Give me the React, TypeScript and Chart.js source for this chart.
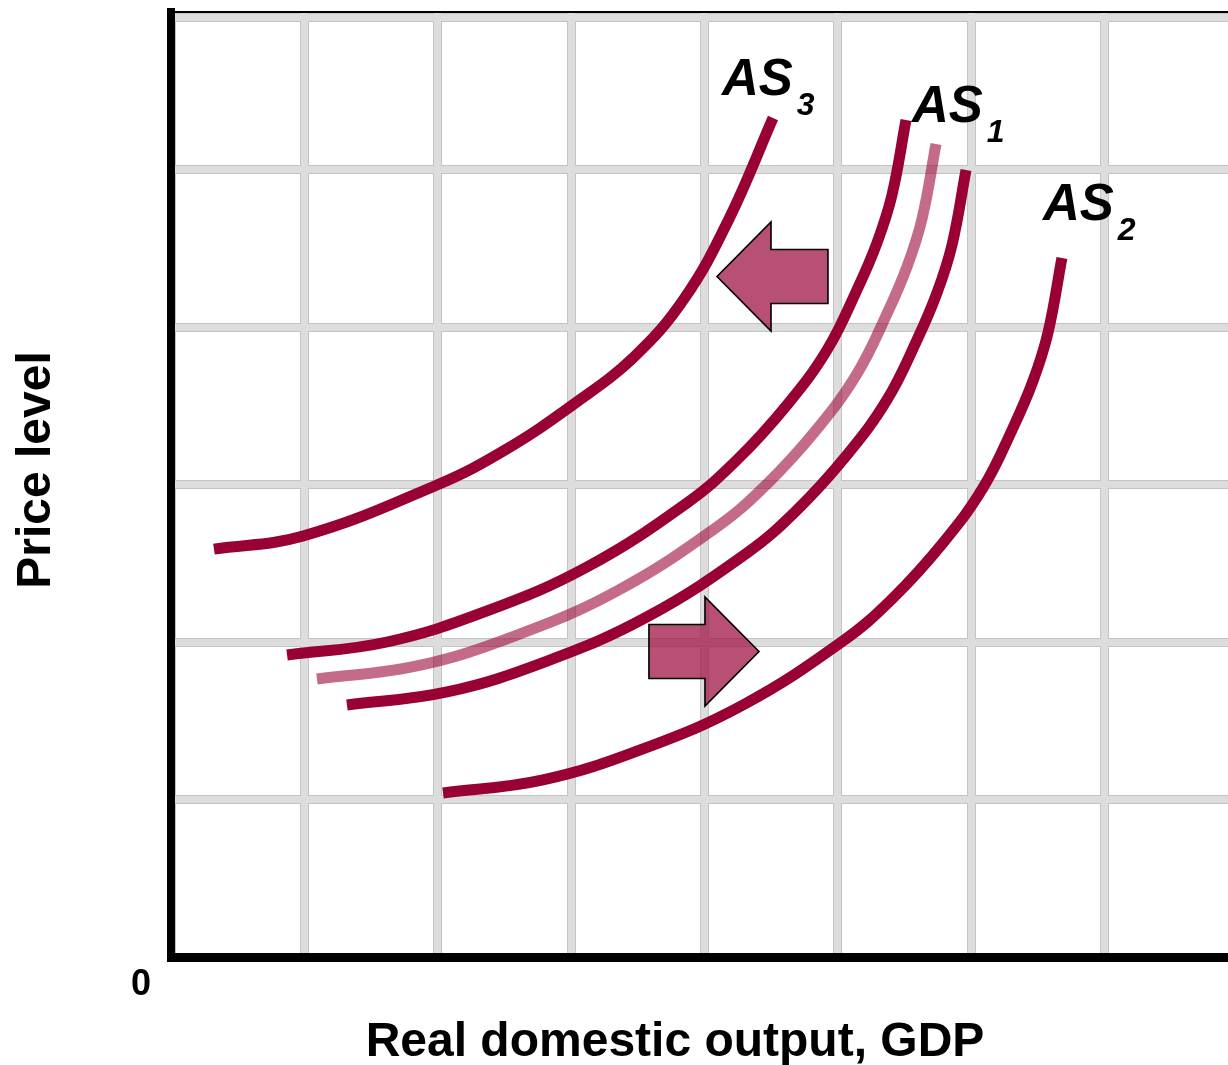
import { useEffect, useRef } from "react";
import { Chart, registerables } from "chart.js";

Chart.register(...registerables);

// Aggregate supply curves, real output (x) against price level (y), in grid units
const as3X = [0.322, 0.99, 1.994, 2.504, 3.021, 3.471, 3.846, 4.183, 4.513];
const as3Y = [2.59, 2.673, 2.997, 3.219, 3.511, 3.81, 4.178, 4.686, 5.327];

const as1UpperX = [0.87, 1.619, 2.369, 3.118, 3.868, 4.243, 4.618, 4.918, 5.142, 5.292, 5.405, 5.51];
const as1UpperY = [1.917, 2.0, 2.197, 2.476, 2.883, 3.156, 3.505, 3.854, 4.235, 4.533, 4.838, 5.314];

const as1X = [1.094, 1.844, 2.594, 3.343, 4.093, 4.468, 4.843, 5.142, 5.367, 5.517, 5.63, 5.735];
const as1Y = [1.765, 1.848, 2.044, 2.324, 2.73, 3.003, 3.352, 3.702, 4.083, 4.381, 4.686, 5.162];

const as1LowerX = [1.319, 2.069, 2.819, 3.568, 4.318, 4.693, 5.067, 5.367, 5.592, 5.742, 5.855, 5.96];
const as1LowerY = [1.6, 1.683, 1.879, 2.159, 2.565, 2.838, 3.187, 3.537, 3.917, 4.216, 4.521, 4.997];

const as2X = [2.039, 2.789, 3.538, 4.288, 5.037, 5.412, 5.787, 6.087, 6.312, 6.462, 6.574, 6.679];
const as2Y = [1.041, 1.124, 1.321, 1.6, 2.006, 2.279, 2.629, 2.978, 3.359, 3.657, 3.962, 4.438];

// Grid positions
const xGridTicks = [0, 1, 2, 3, 4, 5, 6, 7];
const yGridTicks = [0, 1, 2, 3, 4, 5, 5.965];

// Curve labels: text, subscript, anchor in grid units
const labelMain = ["AS", "AS", "AS"];
const labelSub = ["3", "1", "2"];
const labelX = [4.13, 5.555, 6.537];
const labelY = [5.473, 5.302, 4.679];

// Shift arrows: tail, head base and tip along x, at level y
const arrowTail = [4.925, 3.583];
const arrowHead = [4.498, 4.003];
const arrowTip = [4.093, 4.408];
const arrowY = [4.321, 1.94];

const DARK = "#990033";
const LIGHT = "rgba(153, 0, 51, 0.58)";
const ARROW_FILL = "rgba(160, 20, 70, 0.75)";
const FONT = '"Liberation Sans", Arial, Helvetica, sans-serif';

const toPoints = (xs: number[], ys: number[]) => xs.map((x, i) => ({ x, y: ys[i] }));

const decorations = {
  id: "decorations",
  afterDatasetsDraw(chart: any) {
    const { ctx, scales } = chart;
    const sx = scales.x;
    const sy = scales.y;

    // shift arrows
    const shaftHalf = 27;
    const headHalf = 54.5;
    for (let i = 0; i < arrowTip.length; i++) {
      const tip = sx.getPixelForValue(arrowTip[i]);
      const head = sx.getPixelForValue(arrowHead[i]);
      const tail = sx.getPixelForValue(arrowTail[i]);
      const cy = sy.getPixelForValue(arrowY[i]);
      ctx.save();
      ctx.beginPath();
      ctx.moveTo(tip, cy);
      ctx.lineTo(head, cy - headHalf);
      ctx.lineTo(head, cy - shaftHalf);
      ctx.lineTo(tail, cy - shaftHalf);
      ctx.lineTo(tail, cy + shaftHalf);
      ctx.lineTo(head, cy + shaftHalf);
      ctx.lineTo(head, cy + headHalf);
      ctx.closePath();
      ctx.fillStyle = ARROW_FILL;
      ctx.fill();
      ctx.lineWidth = 1.6;
      ctx.lineJoin = "miter";
      ctx.strokeStyle = "#000";
      ctx.stroke();
      ctx.restore();
    }

    // curve labels with subscripts
    ctx.save();
    ctx.fillStyle = "#000";
    ctx.textBaseline = "alphabetic";
    ctx.textAlign = "left";
    for (let i = 0; i < labelMain.length; i++) {
      const px = sx.getPixelForValue(labelX[i]);
      const py = sy.getPixelForValue(labelY[i]);
      ctx.font = `italic bold 51px ${FONT}`;
      ctx.fillText(labelMain[i], px, py);
      const w = ctx.measureText(labelMain[i]).width;
      ctx.font = `italic bold 32px ${FONT}`;
      ctx.fillText(labelSub[i], px + w + 4, py + 20);
    }
    ctx.restore();
  },
  afterDraw(chart: any) {
    const { ctx, chartArea } = chart;
    ctx.save();
    ctx.fillStyle = "#000";
    ctx.textBaseline = "alphabetic";

    // origin
    ctx.font = `bold 36px ${FONT}`;
    ctx.textAlign = "center";
    ctx.fillText("0", chartArea.left - 30, chartArea.bottom + 38);

    // x axis title
    ctx.font = `bold 48px ${FONT}`;
    ctx.fillText("Real domestic output, GDP", 675, chartArea.bottom + 99);

    // y axis title
    ctx.translate(50, 470);
    ctx.rotate(-Math.PI / 2);
    ctx.fillText("Price level", 0, 0);
    ctx.restore();
  },
};

export default function App() {
  const canvasRef = useRef<HTMLCanvasElement | null>(null);

  useEffect(() => {
    const canvas = canvasRef.current;
    if (!canvas) return;

    const curve = (label: string, xs: number[], ys: number[], color: string) => ({
      label,
      data: toPoints(xs, ys),
      showLine: true,
      borderColor: color,
      backgroundColor: color,
      borderWidth: 11,
      borderCapStyle: "butt" as const,
      borderJoinStyle: "round" as const,
      pointRadius: 0,
      pointHoverRadius: 0,
      tension: 0.4,
      fill: false,
    });

    const setTicks = (values: number[]) => (scale: any) => {
      scale.ticks = values.map((v) => ({ value: v }));
    };

    const outerGrid = { color: "#c4c4c4", lineWidth: 9, drawTicks: false, z: -2 };
    const innerGrid = { color: "#dddddd", lineWidth: 7, drawTicks: false, z: -1 };

    const chart = new Chart(canvas, {
      type: "scatter",
      data: {
        datasets: [
          curve("AS3", as3X, as3Y, DARK),
          curve("AS1 upper", as1UpperX, as1UpperY, DARK),
          curve("AS1", as1X, as1Y, LIGHT),
          curve("AS1 lower", as1LowerX, as1LowerY, DARK),
          curve("AS2", as2X, as2Y, DARK),
        ],
      },
      options: {
        responsive: false,
        animation: false,
        devicePixelRatio: 1,
        layout: { padding: { left: 171, top: 12, right: 0, bottom: 1065 - 957 } },
        plugins: {
          legend: { display: false },
          tooltip: { enabled: false },
          title: { display: false },
        },
        events: [],
        scales: {
          x: {
            type: "linear",
            position: "bottom",
            min: 0,
            max: 7.924,
            afterBuildTicks: setTicks(xGridTicks),
            ticks: { display: false },
            grid: outerGrid,
            border: { display: true, color: "#000", width: 9, z: 2 },
          },
          y: {
            type: "linear",
            position: "left",
            min: 0,
            max: 6,
            afterBuildTicks: setTicks(yGridTicks),
            ticks: { display: false },
            grid: outerGrid,
            border: { display: true, color: "#000", width: 8, z: 2 },
          },
          x2: {
            type: "linear",
            position: "top",
            min: 0,
            max: 7.924,
            afterBuildTicks: setTicks(xGridTicks),
            ticks: { display: false },
            grid: innerGrid,
            border: { display: true, color: "#000", width: 2, z: 2 },
          },
          y2: {
            type: "linear",
            position: "right",
            min: 0,
            max: 6,
            afterBuildTicks: setTicks(yGridTicks),
            ticks: { display: false },
            grid: innerGrid,
            border: { display: false },
          },
        },
      } as any,
      plugins: [decorations],
    });

    return () => chart.destroy();
  }, []);

  return (
    <div style={{ position: "absolute", left: 0, top: 0, width: 1228, height: 1065, background: "#fff" }}>
      <canvas ref={canvasRef} width={1228} height={1065} style={{ display: "block" }} />
    </div>
  );
}
